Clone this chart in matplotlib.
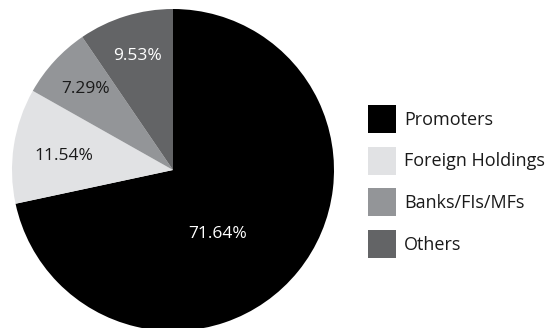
import matplotlib.pyplot as plt

labels = ["Promoters", "Foreign Holdings", "Banks/FIs/MFs", "Others"]
shares = [71.64, 11.54, 7.29, 9.53]
colors = ["#000000", "#e1e2e4", "#939598", "#636466"]
pct_colors = ["white", "#1a1a1a", "#1a1a1a", "white"]

plt.rcParams['font.family'] = ['Open Sans', 'DejaVu Sans']

fig = plt.figure(figsize=(5.46, 3.28), dpi=100)
ax = fig.add_axes([12 / 546, -3 / 328, 322 / 546, 322 / 328])

wedges, texts, autotexts = ax.pie(shares, colors=colors, startangle=90,
                                  counterclock=False, radius=1,
                                  autopct=lambda p: "%.2f%%" % p,
                                  pctdistance=0.74,
                                  textprops={'fontsize': 12.5})
for t, c in zip(autotexts, pct_colors):
    t.set_color(c)
# the big slice label sits nearer the centre
autotexts[0].set_position((0.28, -0.40))
autotexts[1].set_position((-0.68, 0.09))

ax.set_xlim(-1, 1)
ax.set_ylim(-1, 1)
ax.set_aspect('equal')
ax.axis('off')

fig.legend(wedges, labels, loc='upper left',
           bbox_to_anchor=(368 / 546, 1 - 105 / 328),
           frameon=False, fontsize=13, handlelength=1.55, handleheight=2.0,
           labelspacing=0.76, handletextpad=0.45, borderpad=0,
           borderaxespad=0, labelcolor="#1a1a1a")

fig.savefig("out.png", dpi=100)
